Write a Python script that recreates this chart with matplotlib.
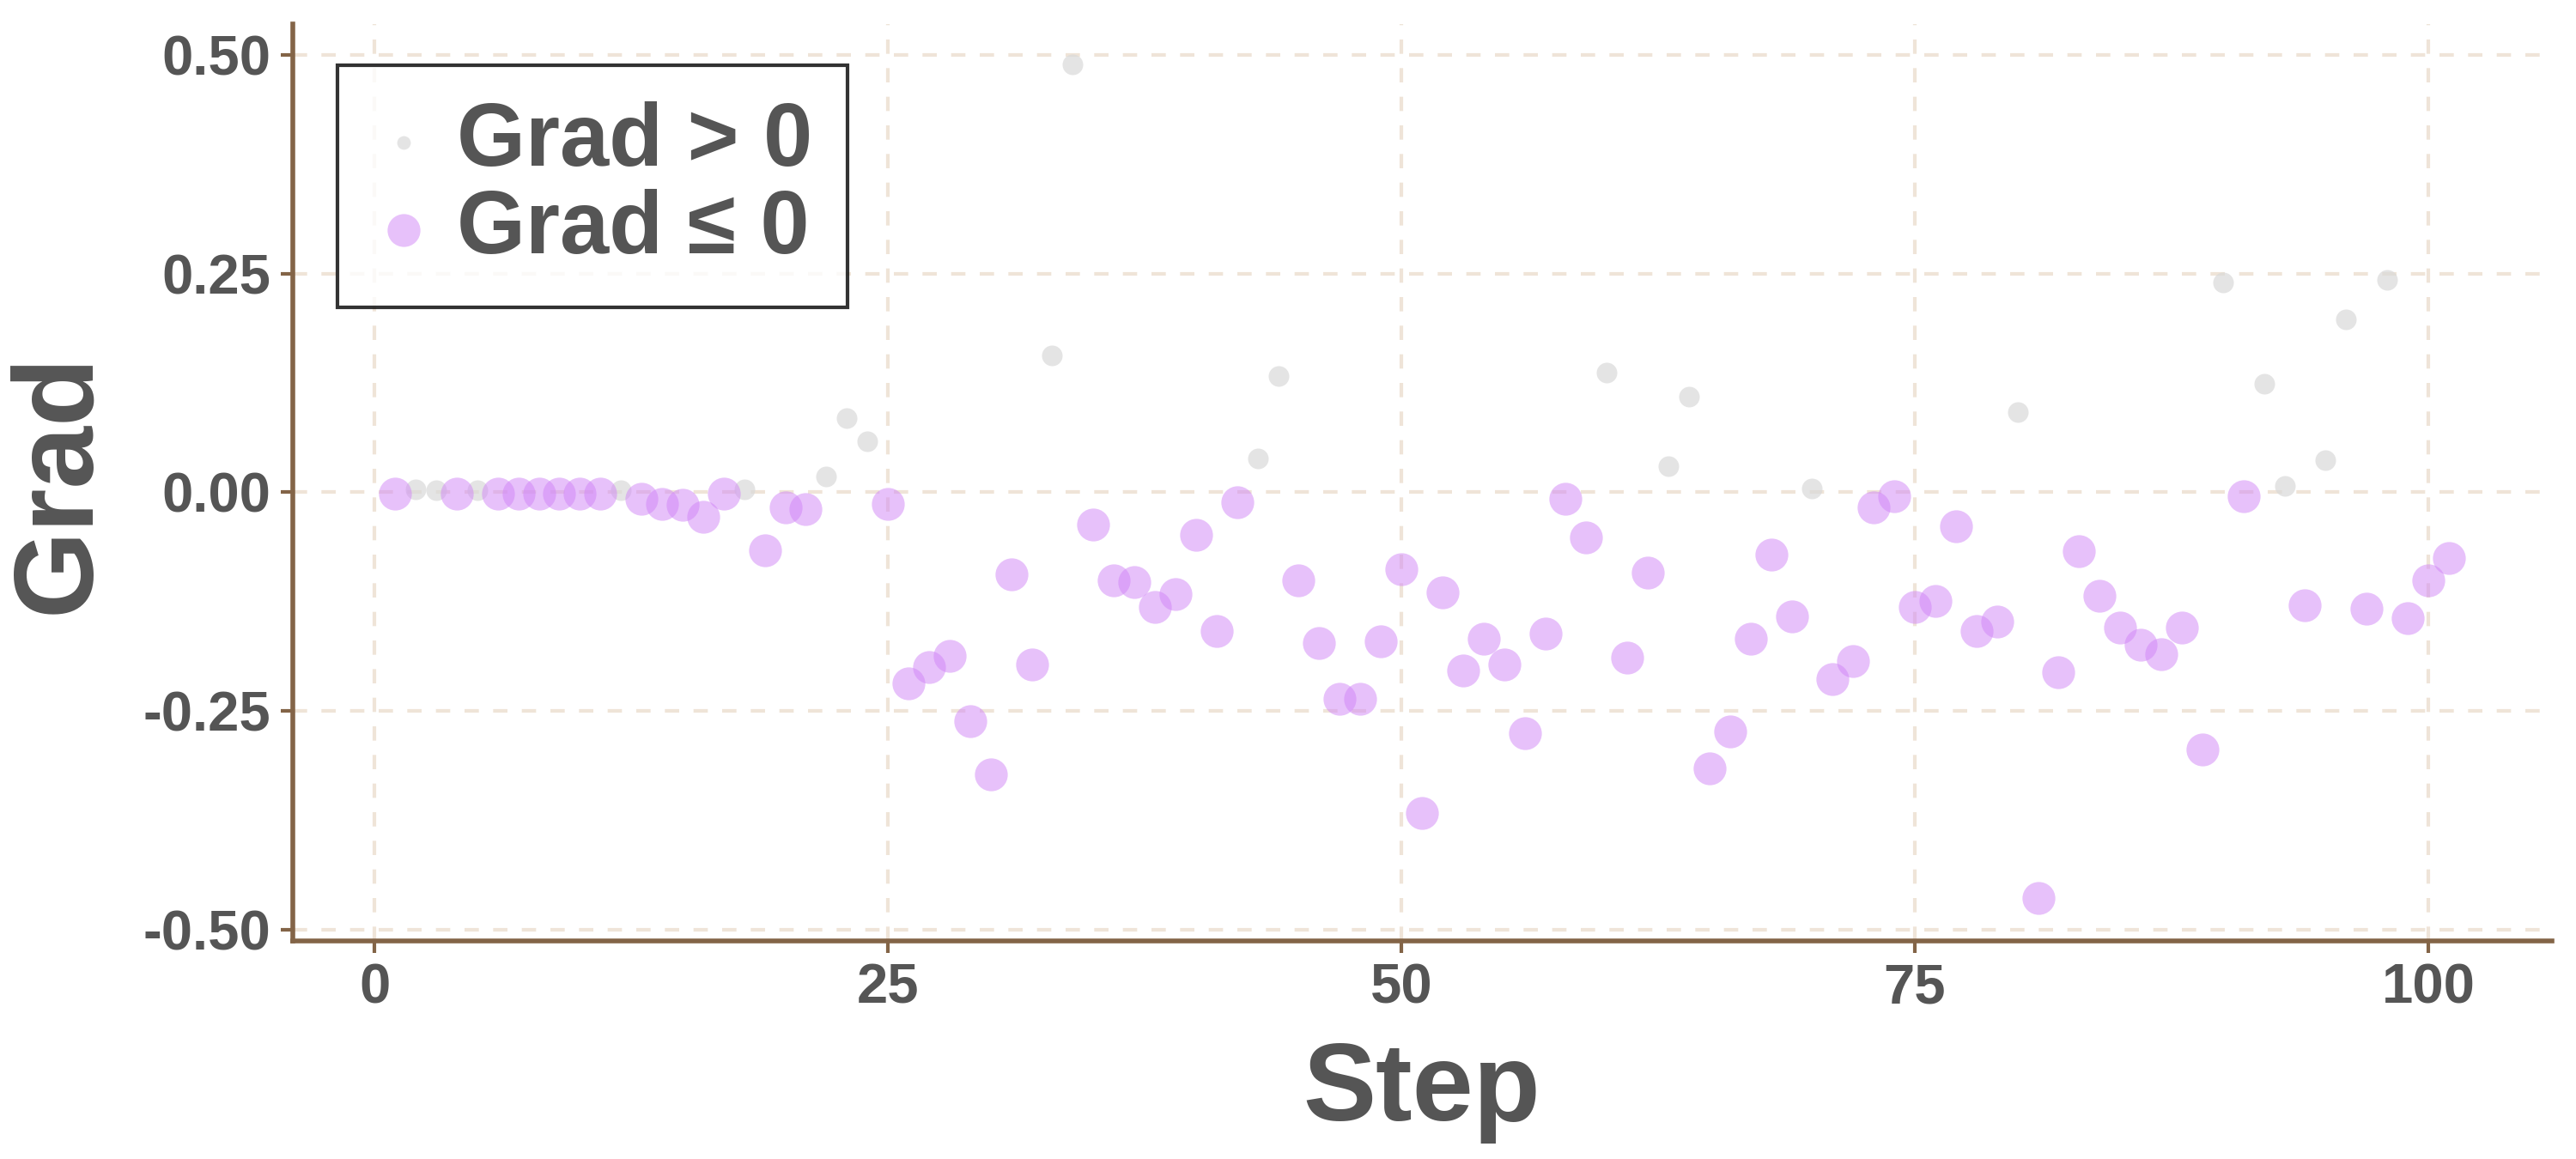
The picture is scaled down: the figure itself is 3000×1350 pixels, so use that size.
import matplotlib
matplotlib.use("Agg")
import matplotlib.pyplot as plt
import numpy as np

plt.rcParams["font.family"] = ["Liberation Sans", "DejaVu Sans"]
plt.rcParams["font.weight"] = "bold"

steps = np.arange(1, 102)
grad = [
    -0.001, 0.003, 0.002, -0.001, 0.002, -0.001, -0.001, -0.001, -0.001, -0.001,
    -0.001, 0.002, -0.007, -0.013, -0.014, -0.028, -0.001, 0.003, -0.066, -0.017,
    -0.019, 0.018, 0.085, 0.058, -0.013, -0.218, -0.200, -0.187, -0.262, -0.322,
    -0.094, -0.197, 0.157, 0.489, -0.037, -0.101, -0.103, -0.131, -0.116, -0.049,
    -0.159, -0.011, 0.039, 0.133, -0.101, -0.172, -0.236, -0.236, -0.170, -0.088,
    -0.367, -0.114, -0.204, -0.167, -0.197, -0.275, -0.161, -0.007, -0.052, 0.137,
    -0.189, -0.092, 0.030, 0.109, -0.316, -0.273, -0.167, -0.071, -0.142, 0.004,
    -0.213, -0.193, -0.017, -0.004, -0.131, -0.124, -0.039, -0.159, -0.148, 0.092,
    -0.464, -0.206, -0.067, -0.118, -0.155, -0.174, -0.185, -0.155, -0.294, 0.240,
    -0.004, 0.124, 0.007, -0.129, 0.037, 0.198, -0.133, 0.243, -0.144, -0.101,
    -0.075,
]
grad = np.array(grad)
pos = grad > 0

x_ticks = [0, 25, 50, 75, 100]
y_ticks = [-0.50, -0.25, 0.00, 0.25, 0.50]
y_tick_labels = ["-0.50", "-0.25", "0.00", "0.25", "0.50"]

text_col = "#555555"
spine_col = "#836447"
grid_col = "#efe4d8"

fig = plt.figure(figsize=(30, 13.5), dpi=100)
ax = fig.add_axes([0.1135, 0.188, 0.877, 0.791])

ax.scatter(steps[pos], grad[pos], s=300, color="#d9d9d9", alpha=0.7,
           linewidths=0, label="Grad > 0", zorder=3)
ax.scatter(steps[~pos], grad[~pos], s=760, color="#d185f7", alpha=0.5,
           linewidths=0, label="Grad \u2264 0", zorder=3)

ax.set_xlim(-4, 106)
ax.set_ylim(-0.513, 0.535)
ax.set_xticks(x_ticks)
ax.set_yticks(y_ticks)
ax.set_yticklabels(y_tick_labels)

ax.grid(True, color=grid_col, linestyle=(0, (4, 4)), linewidth=3, zorder=0)
ax.set_axisbelow(True)

for s in ["top", "right"]:
    ax.spines[s].set_visible(False)
for s in ["left", "bottom"]:
    ax.spines[s].set_color(spine_col)
    ax.spines[s].set_linewidth(4)

ax.tick_params(axis="both", colors=spine_col, width=3, length=10,
               labelsize=47, labelcolor=text_col, pad=8)
for lab in ax.get_xticklabels() + ax.get_yticklabels():
    lab.set_fontweight("bold")

ax.set_xlabel("Step", fontsize=92, fontweight="bold", color=text_col, labelpad=22)
ax.set_ylabel("Grad", fontsize=94, fontweight="bold", color=text_col, labelpad=26)

leg = ax.legend(loc="upper left", bbox_to_anchor=(0.02, 0.955), fontsize=74,
                frameon=True, fancybox=False, edgecolor="black",
                handletextpad=0.25, borderpad=0.4, labelspacing=0.05,
                handlelength=0.7, borderaxespad=0)
leg.get_frame().set_linewidth(3)
for t in leg.get_texts():
    t.set_color(text_col)
    t.set_fontweight("bold")
leg.legend_handles[0].set_sizes([130])
leg.legend_handles[1].set_sizes([760])

fig.savefig("out.png", dpi=100)
